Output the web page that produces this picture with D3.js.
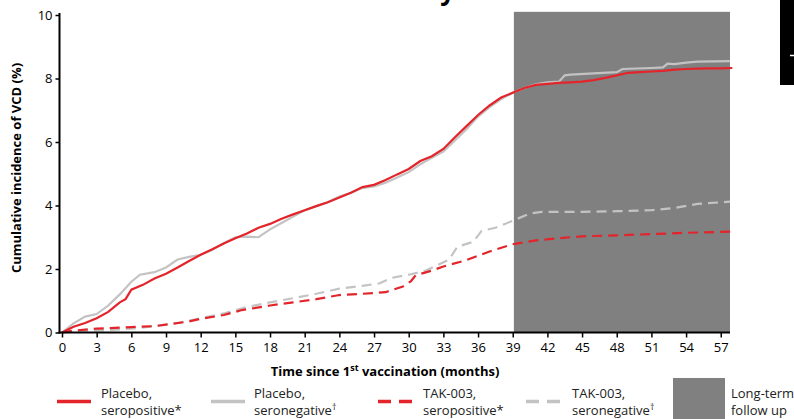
<!DOCTYPE html>
<html>
<head>
<meta charset="utf-8">
<script src="https://cdn.jsdelivr.net/npm/d3@7"></script>
<style>
  html, body { margin: 0; padding: 0; background: #fff; }
  svg { display: block; }
  text { font-family: "Open Sans", "Liberation Sans", sans-serif; }
</style>
</head>
<body>
<svg id="chart" width="794" height="419"></svg>
<script>
// ---- data (months, cumulative incidence %) ----
const placeboPosMonths = [0,1,2,3,4,5,5.5,6,7,8,9,10,11,12,13,14,15,16,17,18,19,20,21,22,23,24,25,26,27,28,29,30,31,32,33,34,35,36,37,38,39,40,41,42,43,44,45,46,47,48,49,50,51,52,53,54,55,56,57,58];
const placeboPosValues = [0,0.18,0.3,0.45,0.65,0.95,1.05,1.35,1.5,1.7,1.85,2.05,2.25,2.45,2.62,2.8,2.97,3.12,3.3,3.42,3.58,3.72,3.85,3.98,4.1,4.25,4.4,4.58,4.65,4.8,4.98,5.15,5.4,5.55,5.78,6.15,6.5,6.85,7.15,7.4,7.55,7.7,7.8,7.83,7.86,7.88,7.9,7.95,8.02,8.1,8.18,8.2,8.22,8.24,8.28,8.3,8.31,8.32,8.32,8.33];

const placeboNegMonths = [0,1,2,3,4,5,6,6.75,8,9,10,11,12,13,14,15,16,17,18,19,20,21,22,23,24,25,26,27,28,29,30,31,32,33,34,35,36,37,38,39,40,41,42,43,43.5,44,46,48,48.5,51,52,52.4,53,54,55,57.8];
const placeboNegValues = [0,0.29,0.5,0.58,0.85,1.2,1.6,1.82,1.9,2.05,2.3,2.38,2.45,2.6,2.82,3.0,3.02,3.0,3.25,3.45,3.65,3.85,3.98,4.1,4.28,4.4,4.55,4.6,4.72,4.88,5.05,5.3,5.5,5.7,6.05,6.4,6.8,7.1,7.35,7.55,7.7,7.82,7.88,7.9,8.1,8.12,8.16,8.2,8.3,8.33,8.35,8.47,8.45,8.5,8.53,8.55];

const takPosMonths = [0,1,3,6,8,9.5,11,12,14,15.5,18,20,22,24,26,28,29.5,30.2,30.6,32,33,35,36,37,39,41,43,45,48,51,54,58.2];
const takPosValues = [0,0.06,0.12,0.17,0.2,0.27,0.35,0.43,0.55,0.7,0.85,0.95,1.05,1.18,1.22,1.27,1.45,1.62,1.8,1.95,2.08,2.28,2.42,2.55,2.78,2.9,2.97,3.03,3.06,3.1,3.14,3.18];

const takNegMonths = [0,2,4,6,8,10,12,14,16,18,20,22,24,26,27.5,28.5,30,31.5,33.5,34.2,35.6,36.3,37.5,39,40.5,41.5,45,48,51,53,55,57.8];
const takNegValues = [0,0.05,0.08,0.12,0.2,0.3,0.45,0.6,0.8,0.95,1.08,1.22,1.38,1.47,1.55,1.72,1.82,1.95,2.3,2.7,2.86,3.2,3.3,3.52,3.75,3.8,3.8,3.82,3.85,3.92,4.05,4.12];

const xTicks = [0,3,6,9,12,15,18,21,24,27,30,33,36,39,42,45,48,51,54,57];
const yTicks = [0,2,4,6,8,10];
const followUpStart = 39.1;
const followUpEnd = 57.8;

const legendLabels = [
  ["Placebo,", "seropositive*"],
  ["Placebo,", "seronegative\u2020"],
  ["TAK-003,", "seropositive*"],
  ["TAK-003,", "seronegative\u2020"]
];

// ---- drawing ----
const svg = d3.select("#chart");
const RED = "#e3242b", GREY = "#c3c3c3", SHADE = "#808080";

const x = d3.scaleLinear().domain([0, 57.8]).range([62, 730]);
const y = d3.scaleLinear().domain([0, 10]).range([332.5, 15]);

// title fragment (cut off at top, only the descender shows in the reference)
svg.append("text").attr("x", 455).attr("y", 0).attr("text-anchor", "end")
  .attr("font-size", 26).attr("font-weight", "bold").text("Efficacy");

// black box top right
svg.append("rect").attr("x", 780).attr("y", 0).attr("width", 14).attr("height", 85).attr("fill", "#000");
svg.append("line").attr("x1", 790).attr("x2", 794).attr("y1", 55.5).attr("y2", 55.5).attr("stroke", "#fff").attr("stroke-width", 1.5);

// shaded long-term follow up
svg.append("rect")
  .attr("x", x(followUpStart)).attr("y", y(10.1))
  .attr("width", x(followUpEnd) - x(followUpStart))
  .attr("height", y(0) - y(10.1))
  .attr("fill", SHADE);

// lines
const line = d3.line().x(d => x(d[0])).y(d => y(d[1])).curve(d3.curveLinear);
const zip = (a, b) => a.map((m, i) => [m, b[i]]);

svg.append("path").datum(zip(takNegMonths, takNegValues)).attr("d", line)
  .attr("fill", "none").attr("stroke", GREY).attr("stroke-width", 2.2).attr("stroke-dasharray", "10,6");
svg.append("path").datum(zip(takPosMonths, takPosValues)).attr("d", line)
  .attr("fill", "none").attr("stroke", RED).attr("stroke-width", 2.2).attr("stroke-dasharray", "10,6");
svg.append("path").datum(zip(placeboNegMonths, placeboNegValues)).attr("d", line)
  .attr("fill", "none").attr("stroke", GREY).attr("stroke-width", 2.2);
svg.append("path").datum(zip(placeboPosMonths, placeboPosValues)).attr("d", line)
  .attr("fill", "none").attr("stroke", RED).attr("stroke-width", 2.2);

// axes
const xAxis = svg.append("g").attr("transform", "translate(0,332.5)")
  .call(d3.axisBottom(x).tickValues(xTicks).tickSize(5).tickPadding(5).tickSizeOuter(0));
xAxis.select(".domain").remove();
xAxis.selectAll(".tick line").attr("stroke-width", 1.5);
xAxis.selectAll("text").attr("font-size", 13).attr("fill", "#000").attr("font-family", "Open Sans");
svg.append("line").attr("x1", 58.5).attr("x2", 730).attr("y1", 332.5).attr("y2", 332.5)
  .attr("stroke", "#000").attr("stroke-width", 2);

const yAxis = svg.append("g").attr("transform", "translate(59.5,0)")
  .call(d3.axisLeft(y).tickValues(yTicks).tickSize(4).tickPadding(3).tickSizeOuter(0));
yAxis.select(".domain").remove();
yAxis.selectAll(".tick line").attr("stroke-width", 1.5);
yAxis.selectAll("text").attr("font-size", 13).attr("fill", "#000").attr("font-family", "Open Sans");
svg.append("line").attr("x1", 59.5).attr("x2", 59.5).attr("y1", 13).attr("y2", 333.5)
  .attr("stroke", "#000").attr("stroke-width", 2);

// axis titles
const xt = svg.append("text").attr("x", 385).attr("y", 376).attr("text-anchor", "middle")
  .attr("font-size", 13).attr("font-weight", "bold");
xt.append("tspan").text("Time since 1");
xt.append("tspan").attr("font-size", 9).attr("dy", -5).text("st");
xt.append("tspan").attr("dy", 5).text(" vaccination (months)");

svg.append("text").attr("transform", "translate(21,168) rotate(-90)").attr("text-anchor", "middle")
  .attr("font-size", 13).attr("font-weight", "bold").text("Cumulative incidence of VCD (%)");

// legend
const legendItems = [
  {x1: 57, x2: 91, tx: 101, color: RED, dash: null},
  {x1: 211, x2: 245, tx: 254, color: GREY, dash: null},
  {x1: 378, x2: 413, tx: 423, color: RED, dash: "13,8"},
  {x1: 526, x2: 561, tx: 572, color: GREY, dash: "13,8"}
];
legendItems.forEach((it, i) => {
  const l = svg.append("line").attr("x1", it.x1).attr("x2", it.x2).attr("y1", 401.5).attr("y2", 401.5)
    .attr("stroke", it.color).attr("stroke-width", 3.5);
  if (it.dash) l.attr("stroke-dasharray", it.dash);
  const t = svg.append("text").attr("x", it.tx).attr("font-size", 13).attr("fill", "#222");
  t.append("tspan").attr("x", it.tx).attr("y", 398).text(legendLabels[i][0]);
  const l2 = legendLabels[i][1];
  if (l2.endsWith("\u2020")) {
    const tt = svg.append("text").attr("x", it.tx).attr("y", 415).attr("font-size", 13).attr("fill", "#222");
    tt.append("tspan").text(l2.slice(0, -1));
    tt.append("tspan").attr("font-size", 9).attr("dy", -5).text("\u2020");
  } else {
    t.append("tspan").attr("x", it.tx).attr("y", 415).text(l2);
  }
});
svg.append("rect").attr("x", 673).attr("y", 378).attr("width", 52).attr("height", 41).attr("fill", SHADE);
svg.append("text").attr("x", 731).attr("y", 398).attr("font-size", 13).attr("fill", "#222").text("Long-term");
svg.append("text").attr("x", 731).attr("y", 415).attr("font-size", 13).attr("fill", "#222").text("follow up");
</script>
</body>
</html>
